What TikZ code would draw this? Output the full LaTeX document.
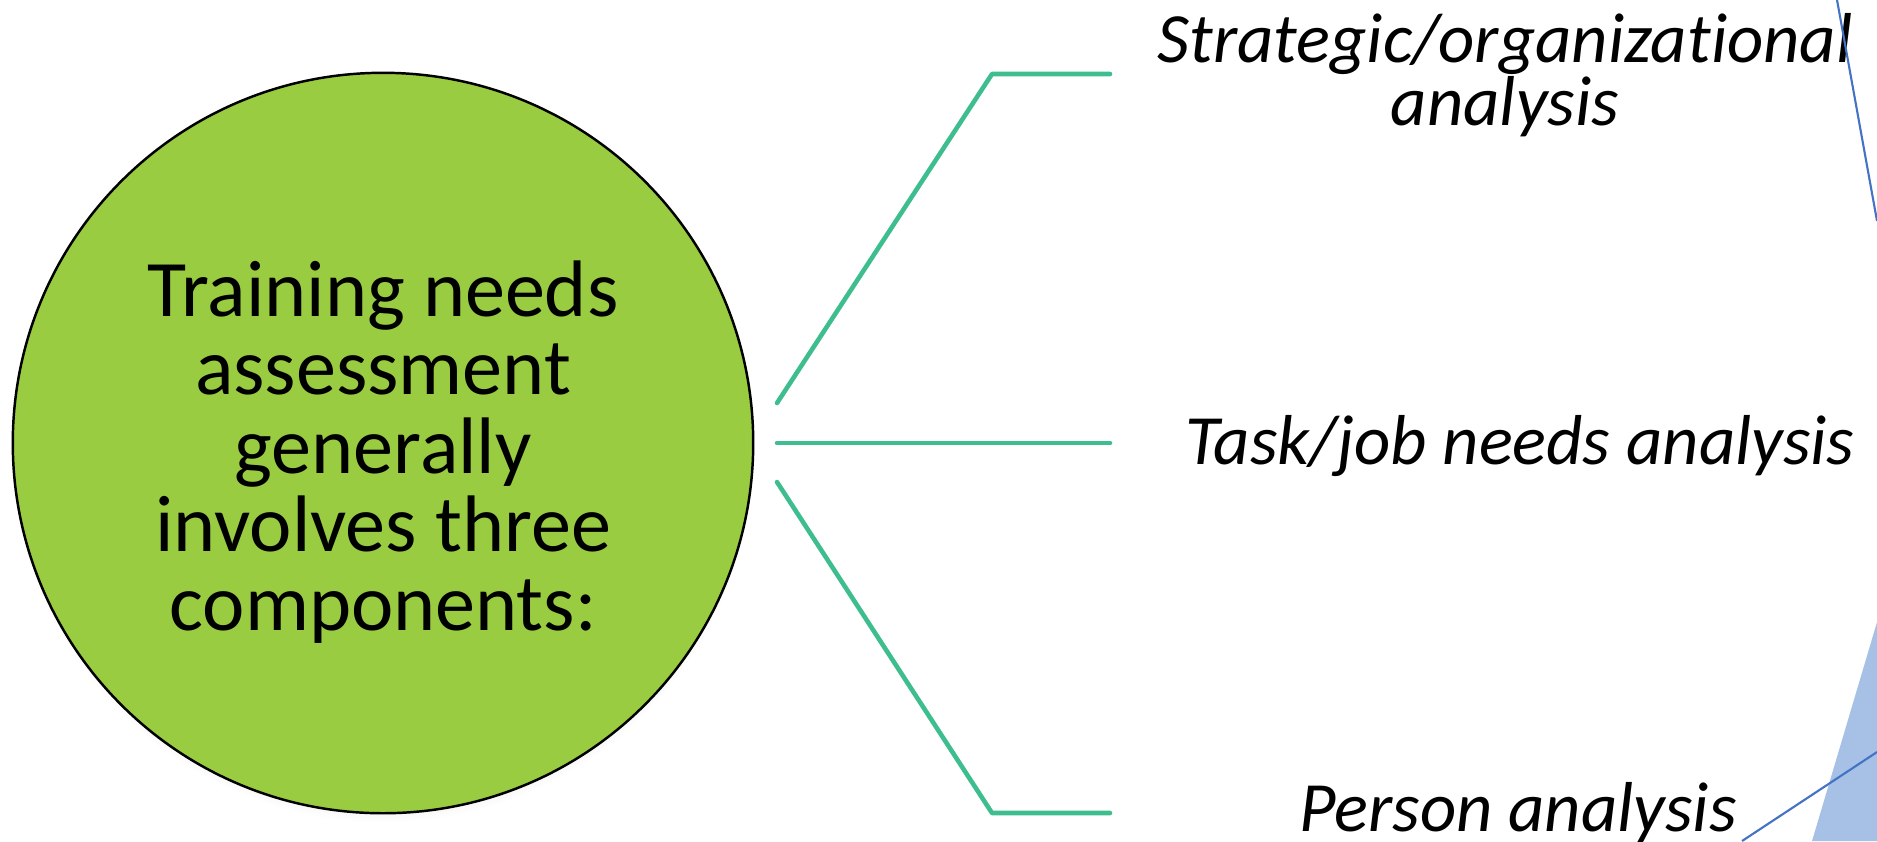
\documentclass[tikz,border=0pt]{standalone}
\usepackage{fontspec}
\setmainfont{Carlito}[Ligatures=NoCommon]
\usetikzlibrary{shadows,fadings}
\definecolor{discgreen}{RGB}{153,204,64}
\definecolor{rimglow}{RGB}{242,255,205}
\definecolor{branchgreen}{RGB}{62,190,142}
\definecolor{edgeblue}{RGB}{68,114,196}
\definecolor{paleblue}{RGB}{166,193,229}
\tikzfading[name=midband, top color=transparent!100, middle color=transparent!0, bottom color=transparent!100]
\begin{document}
\begin{tikzpicture}[x=0.01cm, y=-0.01cm,
  disc/.style={circle, minimum size=7.4cm, inner sep=0pt, fill=discgreen,
    draw=black, line width=0.7pt,
    circular drop shadow={shadow xshift=0pt, shadow yshift=-2.5pt, shadow scale=1.0, opacity=0.3}},
  disctext/.style={align=center, inner sep=0pt, font=\fontsize{22.8}{22.3}\selectfont},
  itemtext/.style={align=center, inner sep=0pt, font=\fontsize{20.1}{18}\selectfont\itshape},
  branch/.style={draw=branchgreen, line width=1.3pt, line cap=round, line join=round},
  edgeline/.style={draw=edgeblue, line width=0.6pt}]
\useasboundingbox (0,0) rectangle (1877,841);

% central disc with a soft glow just inside its rim
\node[disc] (c) at (383,443) {};
\path[draw=rimglow, line width=1.2pt, opacity=0.95, path fading=midband]
  (c.center) circle[radius=357];
\node[disctext] (ct) at (383,452)
  {Training needs\\assessment\\generally\\involves three\\components:};

% branch end points
\coordinate (a1) at (777,403);
\coordinate (k1) at (992,74);
\coordinate (e1) at (1110,74);
\coordinate (a2) at (777,443);
\coordinate (e2) at (1110,443);
\coordinate (a3) at (777,482);
\coordinate (k3) at (992,813);
\coordinate (e3) at (1110,813);

\draw[branch] (a1) -- (k1) -- (e1);
\draw[branch] (a2) -- (e2);
\draw[branch] (a3) -- (k3) -- (e3);

% component labels
\node[itemtext] (s) at (1505,75) {Strategic/organizational\\analysis};
\node[itemtext, anchor=base] (t) at (1520,464) {Task/job needs analysis};
\node[itemtext, anchor=base] (p) at (1518,831) {Person analysis};

% decorative shapes along the right edge
\begin{scope}
  \clip (0,0) rectangle (1877,841);
  \fill[paleblue] (1812,841) -- (1877,622) -- (1877,841) -- cycle;
  \draw[edgeline] (1837,0) -- (1877,221);
  \draw[edgeline] (1742,841) -- (1877,752);
\end{scope}
\end{tikzpicture}
\end{document}
